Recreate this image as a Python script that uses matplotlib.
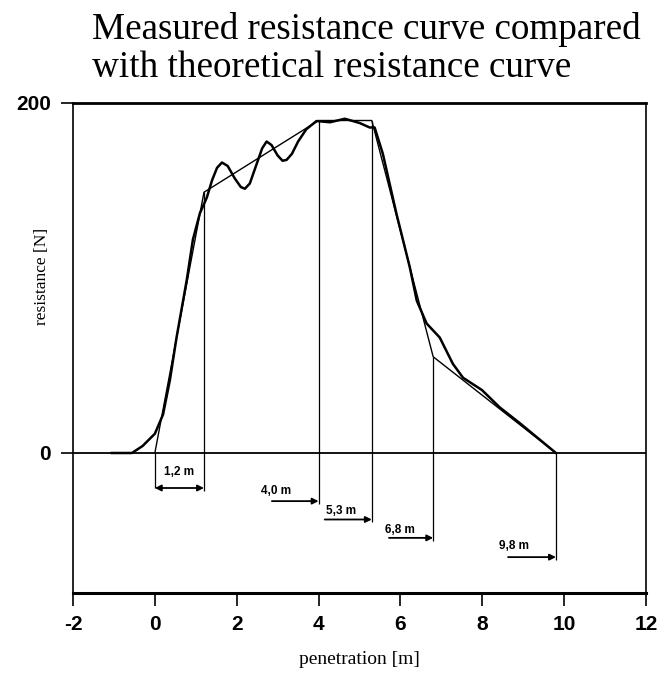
import matplotlib
matplotlib.use('Agg')
import matplotlib.pyplot as plt
import numpy as np

plt.rcParams['axes.unicode_minus'] = False

# theoretical resistance curve (piecewise linear)
theo_x = [0.0, 1.2, 4.0, 5.3, 6.8, 9.8]
theo_y = [0.0, 149, 190, 190, 55, 0.0]

# measured resistance curve
meas_x = [-1.05, -0.56, -0.3, 0.0, 0.2, 0.37, 0.53, 0.78, 0.93, 1.1, 1.27,
          1.4, 1.52, 1.64, 1.78, 1.95, 2.1, 2.2, 2.32, 2.5, 2.62, 2.73,
          2.85, 3.0, 3.12, 3.22, 3.35, 3.5, 3.7, 3.95,
          4.28, 4.64, 5.0, 5.25, 5.37, 5.57, 5.9, 6.23, 6.4, 6.64, 6.96,
          7.28, 7.53, 7.99, 8.43, 8.92, 9.8]
meas_y = [0.0, 0.0, 4, 11, 22, 42, 66, 99, 122, 137, 146,
          156, 163, 166, 164, 157, 152, 151, 154, 166, 174, 178,
          176, 170, 167, 167.5, 171, 178, 185, 189.7,
          189, 191, 188.6, 186, 186, 171, 137, 106, 87, 74, 66,
          51, 43, 36, 26, 17, 0.0]

# dimension arrows
arrow_start = [0.0, 2.86, 4.15, 5.72, 8.63]
arrow_end = [1.2, 4.0, 5.3, 6.8, 9.8]
arrow_level = [-20, -27.5, -38, -48.5, -59.5]
arrow_text = ['1,2 m', '4,0 m', '5,3 m', '6,8 m', '9,8 m']
text_x = [0.6, 2.97, 4.55, 6.0, 8.77]
text_y = [-11, -22, -33, -44, -53]

fig = plt.figure(figsize=(6.6, 6.73), dpi=100)
ax = fig.add_axes([73/660, 80/673, 573/660, 490/673])

ax.plot(theo_x, theo_y, color='black', lw=1.0)
ax.plot(meas_x, meas_y, color='black', lw=1.8)
ax.axhline(0, color='black', lw=1.3)

# vertical guide lines down to the arrows
ax.vlines(0.0, -20, 0, color='black', lw=0.9)
for xe, yt, lev in zip(arrow_end, theo_y[1:], arrow_level):
    ax.vlines(xe, lev - 1.5, yt, color='black', lw=0.9)

for i, (xs, xe, lev) in enumerate(zip(arrow_start, arrow_end, arrow_level)):
    style = '<|-|>' if i == 0 else '-|>'
    ax.annotate('', xy=(xe, lev), xytext=(xs, lev),
                arrowprops=dict(arrowstyle=style, color='black', lw=1.3,
                                mutation_scale=9, shrinkA=0, shrinkB=0))
    ax.text(text_x[i], text_y[i], arrow_text[i], ha='center', va='center',
            fontsize=8.5, fontweight='bold', family='Liberation Sans')

ax.set_xlim(-2, 12)
ax.set_ylim(-80, 200)
ax.set_xticks(np.arange(-2, 13, 2))
ax.set_yticks([0, 200])
ax.tick_params(axis='both', direction='out', length=9, width=1.2,
               labelsize=15, pad=7)
for lab in ax.get_xticklabels() + ax.get_yticklabels():
    lab.set_fontweight('bold')
    lab.set_family('Liberation Sans')
ax.spines['bottom'].set_linewidth(2.2)
ax.spines['top'].set_linewidth(2.0)
ax.spines['left'].set_linewidth(1.2)
ax.spines['right'].set_linewidth(1.2)

ax.set_xlabel('penetration [m]', family='Liberation Serif', fontsize=14, labelpad=12)
fig.text(42/660, 1 - 276/673, 'resistance [N]', family='Liberation Serif',
         fontsize=12.5, rotation=90, ha='center', va='center')

fig.text(92/660, 1 - 12/673,
         'Measured resistance curve compared\nwith theoretical resistance curve',
         family='Liberation Serif', fontsize=26.7, ha='left', va='top',
         linespacing=1.12)

fig.savefig('out.png', dpi=100)
